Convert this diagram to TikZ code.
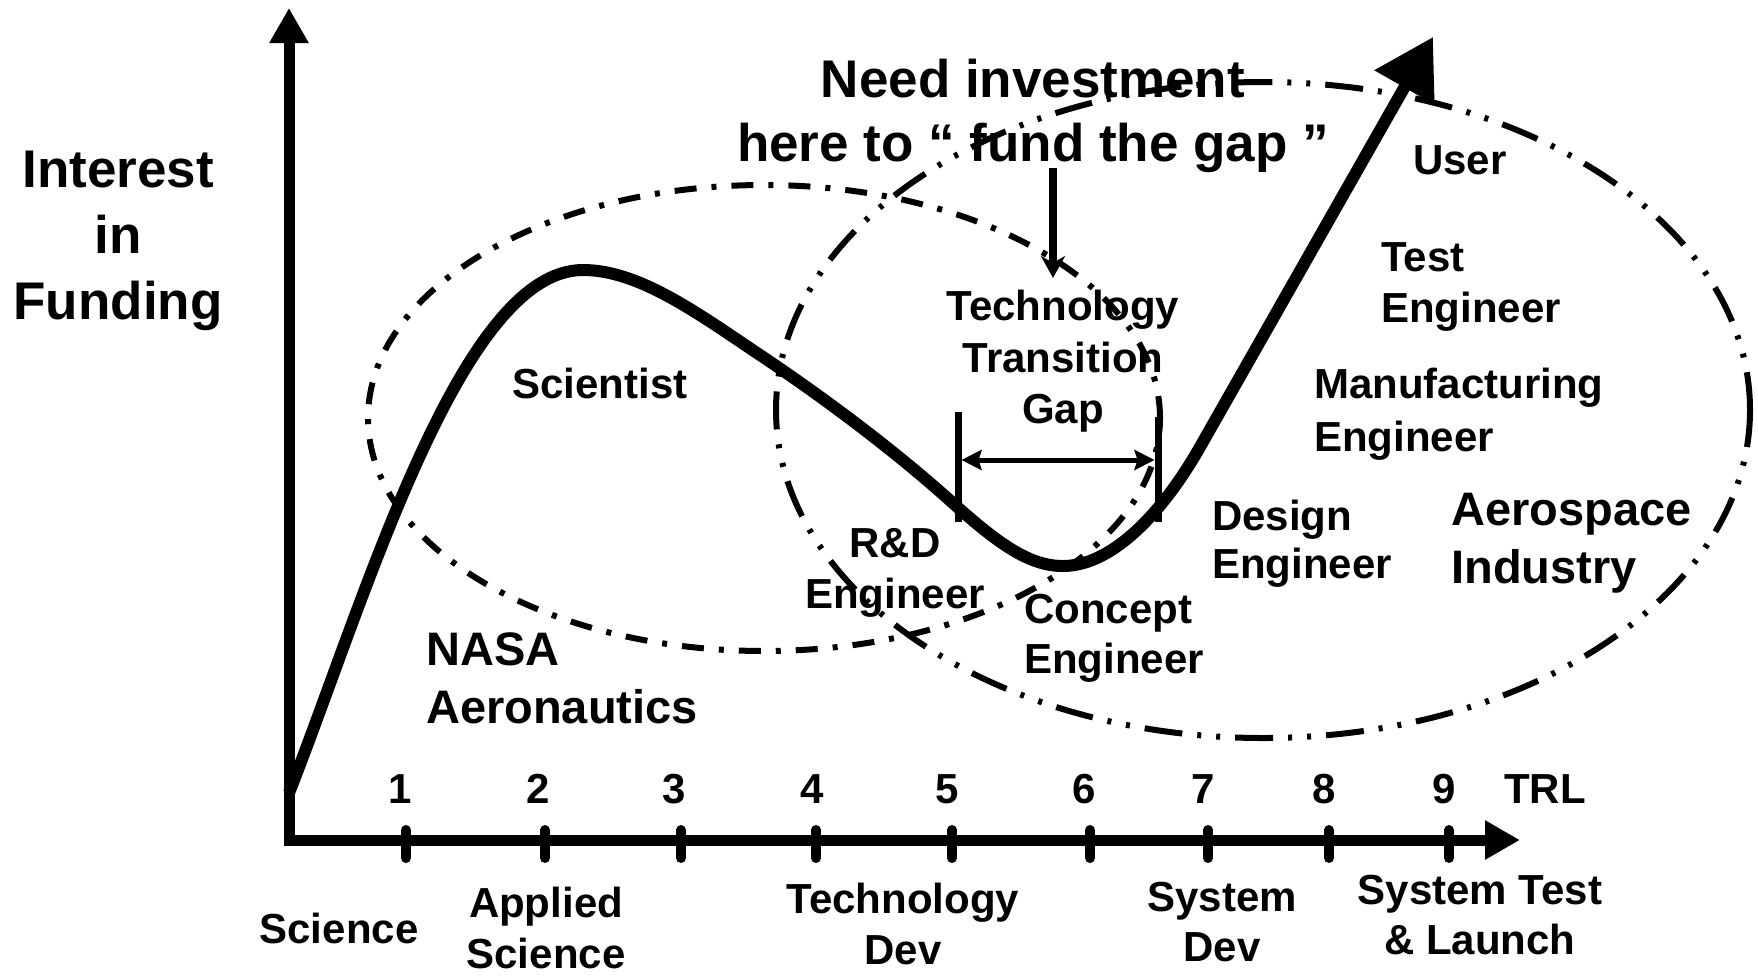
\documentclass[tikz,border=0pt]{standalone}
\usepackage{fontspec}
\setmainfont{Liberation Sans}
\usetikzlibrary{arrows.meta}
\newcommand\mysz[2]{\fontsize{#1}{#2}\selectfont\bfseries}
\begin{document}
\begin{tikzpicture}[x=1pt,y=-1pt,
  lbl/.style={inner sep=0pt, font=\mysz{42}{51}},
  ellL/.style={line width=6pt, dash pattern=on 22pt off 15pt on 5pt off 15pt},
  ellR/.style={line width=6pt, dash pattern=on 38pt off 15pt on 4pt off 15pt on 4pt off 15pt},
  axis/.style={line width=11pt, -{Triangle[length=35pt,width=37pt]}},
  tickmark/.style={line width=10pt, line cap=round},
  bar/.style={line width=7pt},
  curve/.style={line width=12pt, line join=round, -{Triangle[length=58pt,width=66pt]}}]
\useasboundingbox (0,0) rectangle (1758,975);

% ellipses
\draw[ellL] (764,418) ellipse [x radius=396pt, y radius=233pt];
\draw[ellR] (1263,410) ellipse [x radius=487pt, y radius=328pt];

% axes
\draw[axis] (289,845) -- (289,8);
\draw[axis] (284,840) -- (1520,840);

% ticks and numbers
\foreach \i/\nx/\tx in {1/400/406, 2/538/545, 3/674/681, 4/812/816, 5/947/952, 6/1084/1090, 7/1203/1208, 8/1324/1329, 9/1444/1449} {
  \draw[tickmark] (\tx,830) -- (\tx,858);
  \node[lbl, anchor=base] (n\i) at (\nx,803) {\i};
}
\node[lbl, anchor=base] (trl) at (1545,803) {TRL};

% funding curve
\draw[curve] (289,793) .. controls (365,600) and (460,270) .. (583,270)
  .. controls (640,270) and (700,315) .. (763,357)
  .. controls (830,402) and (900,455) .. (955,505)
  .. controls (1000,545) and (1030,566) .. (1063,566)
  .. controls (1110,566) and (1160,517) .. (1200,447)
  -- (1433,37);

% gap bars and arrow
\draw[bar] (958,412) -- (958,522);
\draw[bar] (1158,417) -- (1158,522);
\coordinate (gapL) at (961.5,460);
\coordinate (gapR) at (1154.5,460);
\draw[line width=5pt, {Stealth[length=20pt,width=20pt,inset=3pt]}-{Stealth[length=20pt,width=20pt,inset=3pt]}] (gapL) -- (gapR);

% labels
\node[lbl, align=center, anchor=north, font=\mysz{53}{66}] (yl) at (118,151) {Interest\\in\\Funding};
\node[lbl, align=center, anchor=north, font=\mysz{53}{64}] (need) at (1033,59) {Need investment\\here to “ fund the gap ”};
\coordinate (fundTop) at (1053,168);
\coordinate (fundTip) at (1053,278);
\draw[line width=8pt, -{Stealth[length=22pt,width=24pt,inset=7pt]}] (fundTop) -- (fundTip);

\node[lbl, anchor=north] (sci) at (600,368) {Scientist};
\node[lbl, align=center, anchor=north, font=\mysz{42}{51.5}] (ttg) at (1063,290) {Technology\\Transition\\Gap};
\node[lbl, anchor=north] (user) at (1460,145) {User};
\node[lbl, align=left, anchor=north west] (test) at (1381,242) {Test\\Engineer};
\node[lbl, align=left, anchor=north west, font=\mysz{42}{53}] (manu) at (1314,368) {Manufacturing\\Engineer};
\node[lbl, align=left, anchor=north west, font=\mysz{42}{48}] (design) at (1212,500) {Design\\Engineer};
\node[lbl, align=left, anchor=north west, font=\mysz{47}{58}] (aero) at (1451,493) {Aerospace\\Industry};
\node[lbl, align=center, anchor=north] (rd) at (895,528) {R\&D\\Engineer};
\node[lbl, align=left, anchor=north west, font=\mysz{42}{50}] (concept) at (1024,594) {Concept\\Engineer};
\node[lbl, align=left, anchor=north west, font=\mysz{47}{58}] (nasa) at (426,632) {NASA\\Aeronautics};

% bottom labels
\node[lbl, anchor=north] (bsci) at (339,913) {Science};
\node[lbl, align=center, anchor=north, font=\mysz{42}{51}] (bapp) at (546,887) {Applied\\Science};
\node[lbl, align=center, anchor=north] (btech) at (903,883) {Technology\\Dev};
\node[lbl, align=center, anchor=north, font=\mysz{42}{50}] (bsys) at (1222,882) {System\\Dev};
\node[lbl, align=center, anchor=north, font=\mysz{42}{50}] (blaunch) at (1480,875) {System Test\\\& Launch};
\end{tikzpicture}
\end{document}
